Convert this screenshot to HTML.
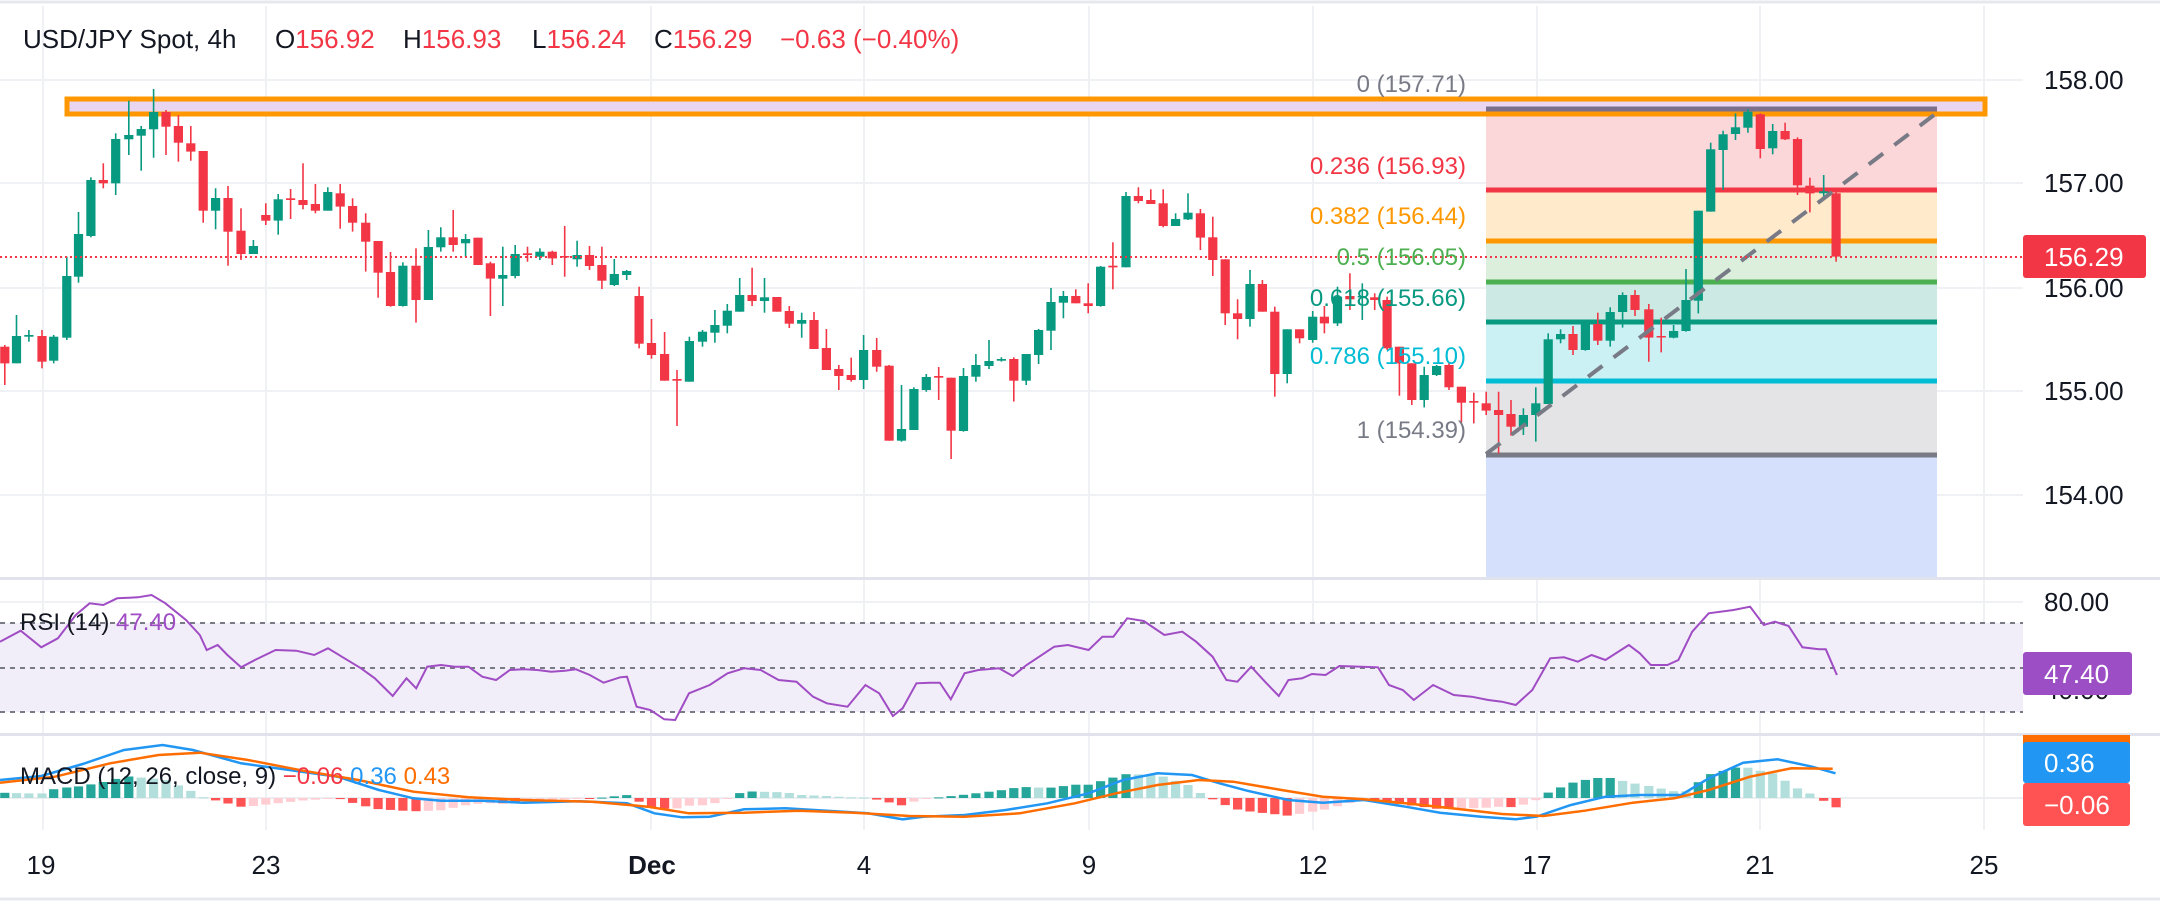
<!DOCTYPE html>
<html><head><meta charset="utf-8"><style>
html,body{margin:0;padding:0;background:#fff;}
svg{display:block;font-family:"Liberation Sans",sans-serif;}
</style></head><body>
<svg id="s" width="2160" height="901" xmlns="http://www.w3.org/2000/svg">
<rect width="2160" height="901" fill="#fff"/>
<g id="grid" stroke="#f0f1f4" stroke-width="2">
<line x1="0" y1="80" x2="2023" y2="80"/><line x1="0" y1="183" x2="2023" y2="183"/><line x1="0" y1="288" x2="2023" y2="288"/><line x1="0" y1="391" x2="2023" y2="391"/><line x1="0" y1="495" x2="2023" y2="495"/>
<line x1="0" y1="602" x2="2023" y2="602"/><line x1="0" y1="690" x2="2023" y2="690"/>
</g>
<g id="vgrid" stroke="#f0f1f4" stroke-width="2"></g>
<line x1="0" y1="2" x2="2160" y2="2" stroke="#e6e8ee" stroke-width="3"/>
<rect x="1486" y="109" width="451" height="81" fill="#fcd7da"/>
<rect x="1486" y="190" width="451" height="51" fill="#ffeacc"/>
<rect x="1486" y="241" width="451" height="41" fill="#dbefdc"/>
<rect x="1486" y="282" width="451" height="40" fill="#cde9e4"/>
<rect x="1486" y="322" width="451" height="59" fill="#ccf1f5"/>
<rect x="1486" y="381" width="451" height="74" fill="#e4e4e6"/>
<rect x="1486" y="455" width="451" height="124" fill="#d4e0fc"/>
<g stroke-width="5">
<line x1="1486" y1="190" x2="1937" y2="190" stroke="#f23645"/>
<line x1="1486" y1="241" x2="1937" y2="241" stroke="#ff9800"/>
<line x1="1486" y1="282" x2="1937" y2="282" stroke="#4caf50"/>
<line x1="1486" y1="322" x2="1937" y2="322" stroke="#089981"/>
<line x1="1486" y1="381" x2="1937" y2="381" stroke="#00bcd4"/>
<line x1="1486" y1="455" x2="1937" y2="455" stroke="#787b86"/>
</g>
<rect x="67" y="99" width="1918" height="15" fill="#e9d5ef" stroke="#ff9800" stroke-width="5"/>
<line x1="1486" y1="109" x2="1937" y2="109" stroke="#7b6f8c" stroke-width="5"/>
<g id="cand"></g>
<line x1="1486" y1="454" x2="1934" y2="115" stroke="#787b86" stroke-width="4" stroke-dasharray="18 14"/>
<line x1="0" y1="257" x2="2023" y2="257" stroke="#f23645" stroke-width="2" stroke-dasharray="2 3"/>
<g font-size="24" text-anchor="end">
<text x="1466" y="92" fill="#787b86">0 (157.71)</text>
<text x="1466" y="174" fill="#f23645">0.236 (156.93)</text>
<text x="1466" y="224" fill="#ff9800">0.382 (156.44)</text>
<text x="1466" y="265" fill="#4caf50">0.5 (156.05)</text>
<text x="1466" y="306" fill="#089981">0.618 (155.66)</text>
<text x="1466" y="364" fill="#00bcd4">0.786 (155.10)</text>
<text x="1466" y="438" fill="#787b86">1 (154.39)</text>
</g>
<text x="23" y="48" font-size="26" fill="#131722">USD/JPY Spot, 4h <tspan x="275">O</tspan><tspan fill="#f23645">156.92</tspan><tspan x="403">H</tspan><tspan fill="#f23645">156.93</tspan><tspan x="532">L</tspan><tspan fill="#f23645">156.24</tspan><tspan x="654">C</tspan><tspan fill="#f23645">156.29</tspan><tspan x="780" fill="#f23645">−0.63 (−0.40%)</tspan></text>
<g font-size="26" fill="#131722">
<text x="2044" y="89">158.00</text><text x="2044" y="192">157.00</text><text x="2044" y="297">156.00</text><text x="2044" y="400">155.00</text><text x="2044" y="504">154.00</text>
</g>
<rect x="2023" y="235" width="123" height="43" rx="3" fill="#f23645"/>
<text x="2044" y="266" font-size="26" fill="#fff">156.29</text>
<rect x="0" y="577" width="2160" height="3" fill="#e0e3eb"/>
<rect x="0" y="733" width="2160" height="3" fill="#e0e3eb"/>
<rect x="0" y="623" width="2023" height="89" fill="#f2eef9"/>
<g stroke="#787b86" stroke-width="2" stroke-dasharray="5 5">
<line x1="0" y1="623" x2="2023" y2="623"/><line x1="0" y1="668" x2="2023" y2="668"/><line x1="0" y1="712" x2="2023" y2="712"/>
</g>
<polyline id="rsi" fill="none" stroke="#a04cc4" stroke-width="2"/>
<text x="20" y="630" font-size="24" fill="#131722">RSI (14) <tspan fill="#a04cc4">47.40</tspan></text>
<text x="2044" y="611" font-size="26" fill="#131722">80.00</text>
<text x="2044" y="699" font-size="26" fill="#131722">40.00</text>
<rect x="2023" y="652" width="109" height="43" rx="3" fill="#9c4fc4"/>
<text x="2044" y="683" font-size="26" fill="#fff">47.40</text>
<line x1="0" y1="798" x2="2023" y2="798" stroke="#eceef2" stroke-width="2"/>
<g id="hist"></g>
<polyline id="macd" fill="none" stroke="#2196f3" stroke-width="2.5"/>
<polyline id="sig" fill="none" stroke="#ff6d00" stroke-width="2.5"/>
<text x="20" y="784" font-size="24" fill="#131722">MACD (12, 26, close, 9) <tspan fill="#f23645">−0.06</tspan> <tspan fill="#2196f3">0.36</tspan> <tspan fill="#ff6d00">0.43</tspan></text>
<rect x="2023" y="735" width="107" height="10" fill="#ff6d00"/>
<rect x="2023" y="742" width="107" height="41" rx="3" fill="#2196f3"/>
<text x="2044" y="772" font-size="26" fill="#fff">0.36</text>
<rect x="2023" y="783" width="107" height="43" rx="3" fill="#ff5252"/>
<text x="2044" y="814" font-size="26" fill="#fff">−0.06</text>
<g font-size="26" fill="#131722" text-anchor="middle">
<text x="41" y="874">19</text><text x="266" y="874">23</text><text x="652" y="874" font-weight="bold">Dec</text><text x="864" y="874">4</text><text x="1089" y="874">9</text><text x="1313" y="874">12</text><text x="1537" y="874">17</text><text x="1760" y="874">21</text><text x="1984" y="874">25</text>
</g>
<line x1="0" y1="899" x2="2160" y2="899" stroke="#e6e8ee" stroke-width="3"/>
</svg>
<script>
var NS="http://www.w3.org/2000/svg";
function el(p,t,a){var e=document.createElementNS(NS,t);for(var k in a)e.setAttribute(k,a[k]);p.appendChild(e);return e;}
var vg=document.getElementById('vgrid');
[43,266,651,864,1089,1313,1537,1760,1984].forEach(function(x){el(vg,'line',{x1:x,y1:6,x2:x,y2:830});});
var A=[
[7,'r',1040,1090,1035,1155],[24,'g',1008,1090,945,1090],[42,'g',1005,1010,990,1025],[61,'r',1008,1085,990,1105],[78,'g',1010,1082,1005,1090],
[97,'g',828,1013,770,1020],[114,'g',702,830,636,848],[132,'g',540,708,532,712],[150,'r',540,550,490,565],[168,'g',417,550,400,585],
[187,'g',405,418,302,465],[205,'g',387,407,378,512],[223,'g',336,388,267,473],[241,'r',336,380,330,465],[259,'r',378,428,345,485],
[277,'r',430,455,378,482],[295,'r',453,632,453,668],[313,'g',594,632,565,688],[331,'r',594,695,558,797],[350,'r',692,762,625,780],
[368,'g',738,762,720,762],[386,'r',645,662,610,675],[404,'g',598,662,582,704],[422,'r',595,600,567,657],[440,'r',600,615,490,628],
[458,'r',612,632,552,640],[476,'g',576,632,562,632],[494,'r',580,620,552,686],[512,'r',618,668,595,695],[531,'r',668,725,640,815],
[549,'r',723,818,723,893],[567,'r',816,918,756,920],[585,'g',797,918,787,920],[604,'r',797,900,745,968],[622,'g',741,900,690,900],
[640,'g',712,742,682,755],[658,'r',712,735,630,755],[676,'g',717,730,702,770],[694,'r',713,795,713,795],[712,'r',790,836,785,948],
[730,'g',825,836,740,918],[748,'g',762,828,735,835],[766,'r',760,765,740,785],[784,'g',755,770,745,780],[802,'r',755,775,752,795],
[820,'r',768,772,678,830],[838,'g',765,778,722,800],[856,'r',765,798,738,810],[874,'r',795,842,740,867],[892,'g',822,855,777,858],
[910,'g',813,825,810,840],[928,'r',888,1031,860,1045],[946,'r',1029,1065,957,1076],[965,'r',1062,1142,996,1142],[983,'r',1137,1142,1110,1278],
[1001,'g',1023,1145,1010,1145],[1020,'g',995,1025,990,1040],[1038,'g',975,998,930,1028],[1056,'g',932,977,912,1000],[1074,'g',885,935,834,935],
[1092,'r',885,903,803,918],[1110,'g',892,903,834,938],[1128,'r',891,935,891,935],[1146,'r',933,971,918,984],[1164,'g',960,971,938,1013],
[1182,'r',960,1047,936,1047],[1200,'r',1044,1110,987,1110],[1218,'r',1107,1128,1095,1170],[1236,'r',1125,1140,1073,1145],[1254,'g',1050,1140,1005,1167],
[1273,'r',1050,1100,1014,1115],[1291,'r',1097,1322,1095,1322],[1309,'g',1287,1322,1155,1325],[1327,'g',1167,1290,1162,1290],[1345,'g',1131,1170,1122,1175],
[1363,'r',1128,1133,1101,1200],[1381,'r',1133,1292,1133,1377],[1399,'g',1128,1293,1104,1295],[1417,'g',1095,1130,1062,1145],[1436,'g',1083,1098,1020,1107],
[1454,'g',1077,1082,1072,1085],[1472,'r',1077,1142,1072,1205],[1490,'g',1062,1142,1062,1155],[1508,'g',990,1065,987,1092],[1526,'g',906,992,864,1050],
[1544,'g',888,908,873,955],[1562,'r',888,910,868,910]];
var B=[
[12,'r',910,918,850,940],[30,'g',800,918,798,920],[48,'r',797,802,727,868],[67,'g',588,802,576,802],[85,'r',588,603,562,610],
[103,'r',600,612,568,612],[121,'r',610,678,568,682],[139,'g',657,678,640,678],[157,'g',638,658,580,660],[175,'r',640,713,627,750],
[193,'r',712,780,650,828],[211,'r',778,940,778,975],[229,'r',940,957,898,1018],[247,'g',852,957,810,980],[265,'r',852,935,840,935],
[283,'r',935,1122,920,1190],[301,'g',988,1122,988,1150],[319,'r',988,1015,988,1030],[338,'g',950,1020,933,1028],[355,'r',950,970,918,1000],
[374,'g',890,970,860,978],[392,'r',888,898,820,930],[410,'g',888,891,850,960],[428,'r',892,900,880,930],[446,'r',900,1045,890,1050],
[464,'r',1040,1090,1040,1187],[482,'r',1090,1200,1090,1215],[500,'g',1125,1200,1100,1222],[518,'g',1098,1125,1095,1128],[536,'r',1095,1162,1088,1170],
[554,'r',1160,1208,1160,1268],[572,'r',1203,1208,1178,1270],[590,'r',1210,1232,1175,1245],[608,'r',1230,1245,1175,1360],[626,'r',1242,1280,1200,1307],
[644,'g',1245,1280,1225,1305],[662,'g',1210,1245,1162,1325],[680,'g',1018,1212,1000,1212],[698,'g',1002,1018,988,1030],[716,'r',1002,1050,978,1065],
[734,'g',972,1050,960,1052],[752,'r',972,1022,938,1035],[770,'g',936,1022,922,1040],[788,'g',885,936,877,983],[806,'r',885,930,870,948],
[826,'r',928,1013,912,1085],[844,'r',1008,1012,953,1057],[862,'g',993,1013,975,1015],[880,'g',900,993,807,995],[898,'g',632,902,632,940],
[916,'g',448,635,428,635],[934,'g',403,450,392,570],[952,'g',382,402,340,420],[970,'g',335,383,327,398],[988,'r',343,447,340,475],
[1006,'g',393,445,372,463],[1024,'r',393,418,368,420],[1042,'r',417,556,412,585],[1060,'r',557,580,533,637],[1080,'g',574,580,525,600],
[1098,'r',580,770,570,785]];
B.forEach(function(c){c[0]+=1568;});
var C=A.concat(B);
var g=document.getElementById('cand');
C.forEach(function(c){
 var x=c[0]/1.452, col=c[1]=='g'?'#089981':'#f23645';
 var bt=c[2]/3, bb=c[3]/3, wt=c[4]/3, wb=c[5]/3;
 el(g,'rect',{x:(x-0.8).toFixed(1),y:wt.toFixed(1),width:1.6,height:Math.max(1,wb-wt).toFixed(1),fill:col});
 el(g,'rect',{x:(x-4.6).toFixed(1),y:bt.toFixed(1),width:9.2,height:Math.max(1.5,bb-bt).toFixed(1),fill:col});
});
function pts(arr){return arr.map(function(p){return (p[0]*1.378).toFixed(1)+','+(p[1]/3+560).toFixed(1);}).join(' ');}
var R=[[0,245],[15,212],[30,262],[42,235],[55,165],[65,130],[75,135],[85,115],[100,112],[110,105],[120,130],[135,180],[145,225],[150,270],[158,255],[165,285],[175,322],[185,300],[200,270],[215,272],[228,285],[238,265],[250,295],[262,325],[272,355],[285,408],[295,355],[302,385],[310,320],[320,315],[330,320],[340,320],[350,350],[360,360],[370,330],[380,328],[390,330],[400,335],[410,332],[418,328],[428,345],[438,368],[450,352],[455,350],[462,440],[472,450],[482,478],[490,480],[500,400],[515,375],[528,340],[540,325],[552,330],[565,360],[578,365],[590,410],[600,430],[615,440],[628,375],[638,400],[648,468],[655,445],[665,370],[675,368],[682,368],[690,418],[700,340],[710,330],[725,325],[735,348],[745,315],[765,260],[775,255],[790,270],[800,230],[808,230],[818,175],[830,183],[845,225],[858,215],[868,245],[880,290],[890,360],[898,365],[908,320],[918,365],[928,408],[935,360],[945,355],[952,342],[962,345],[972,318],[988,320],[1000,322],[1008,375],[1018,390],[1026,420],[1040,375],[1055,405],[1068,410],[1080,420],[1090,425],[1100,435],[1112,390],[1125,295],[1135,292],[1145,305],[1155,285],[1165,300],[1182,255],[1190,280],[1198,315],[1210,315],[1218,300],[1228,215],[1240,160],[1258,150],[1270,140],[1280,195],[1288,185],[1298,198],[1308,262],[1320,268],[1325,268],[1333,345]];
document.getElementById('rsi').setAttribute('points',pts(R));
var M=[[0,660],[30,648],[60,612],[90,570],[118,555],[140,570],[175,610],[210,630],[245,650],[275,690],[300,715],[320,722],[350,722],[380,728],[420,724],[455,730],[475,760],[495,772],[515,770],[540,748],[570,745],[600,752],[630,760],[655,778],[670,770],[700,765],[730,750],[760,730],[790,700],[815,660],[840,640],[865,645],[885,670],[905,692],[935,720],[960,728],[990,720],[1020,740],[1045,758],[1075,770],[1100,778],[1115,770],[1140,735],[1165,710],[1190,705],[1220,705],[1240,655],[1265,608],[1290,598],[1315,620],[1332,640]];
var S=[[0,668],[40,650],[80,610],[115,585],[145,578],[180,600],[220,632],[260,660],[300,695],[340,712],[380,720],[430,725],[470,740],[500,760],[540,758],[580,752],[620,758],[660,768],[700,770],[740,760],[780,730],[810,700],[840,675],[870,660],[895,665],[930,690],[960,710],[990,718],[1020,730],[1060,748],[1090,762],[1120,768],[1150,752],[1185,728],[1215,715],[1240,690],[1270,650],[1300,625],[1330,626]];
document.getElementById('macd').setAttribute('points',pts(M));
document.getElementById('sig').setAttribute('points',pts(S));
function interp(arr,x){for(var i=1;i<arr.length;i++){if(arr[i][0]>=x){var a=arr[i-1],b=arr[i];return a[1]+(b[1]-a[1])*(x-a[0])/(b[0]-a[0]);}}return arr[arr.length-1][1];}
var h=document.getElementById('hist'),prev=0;
C.forEach(function(c){
 var rx=c[0]/1.452, zx=rx/1.378;
 var d=(interp(S,zx)-interp(M,zx))/3*2.0;
 var col=d>=0?(d>=prev?'#26a69a':'#b2dfdb'):(d<=prev?'#ff5252':'#ffcdd2');
 prev=d;
 var y=d>=0?798-d:798, hh=Math.max(1,Math.abs(d));
 el(h,'rect',{x:(rx-4.6).toFixed(1),y:y.toFixed(1),width:9.2,height:hh.toFixed(1),fill:col});
});
</script>
</body></html>
